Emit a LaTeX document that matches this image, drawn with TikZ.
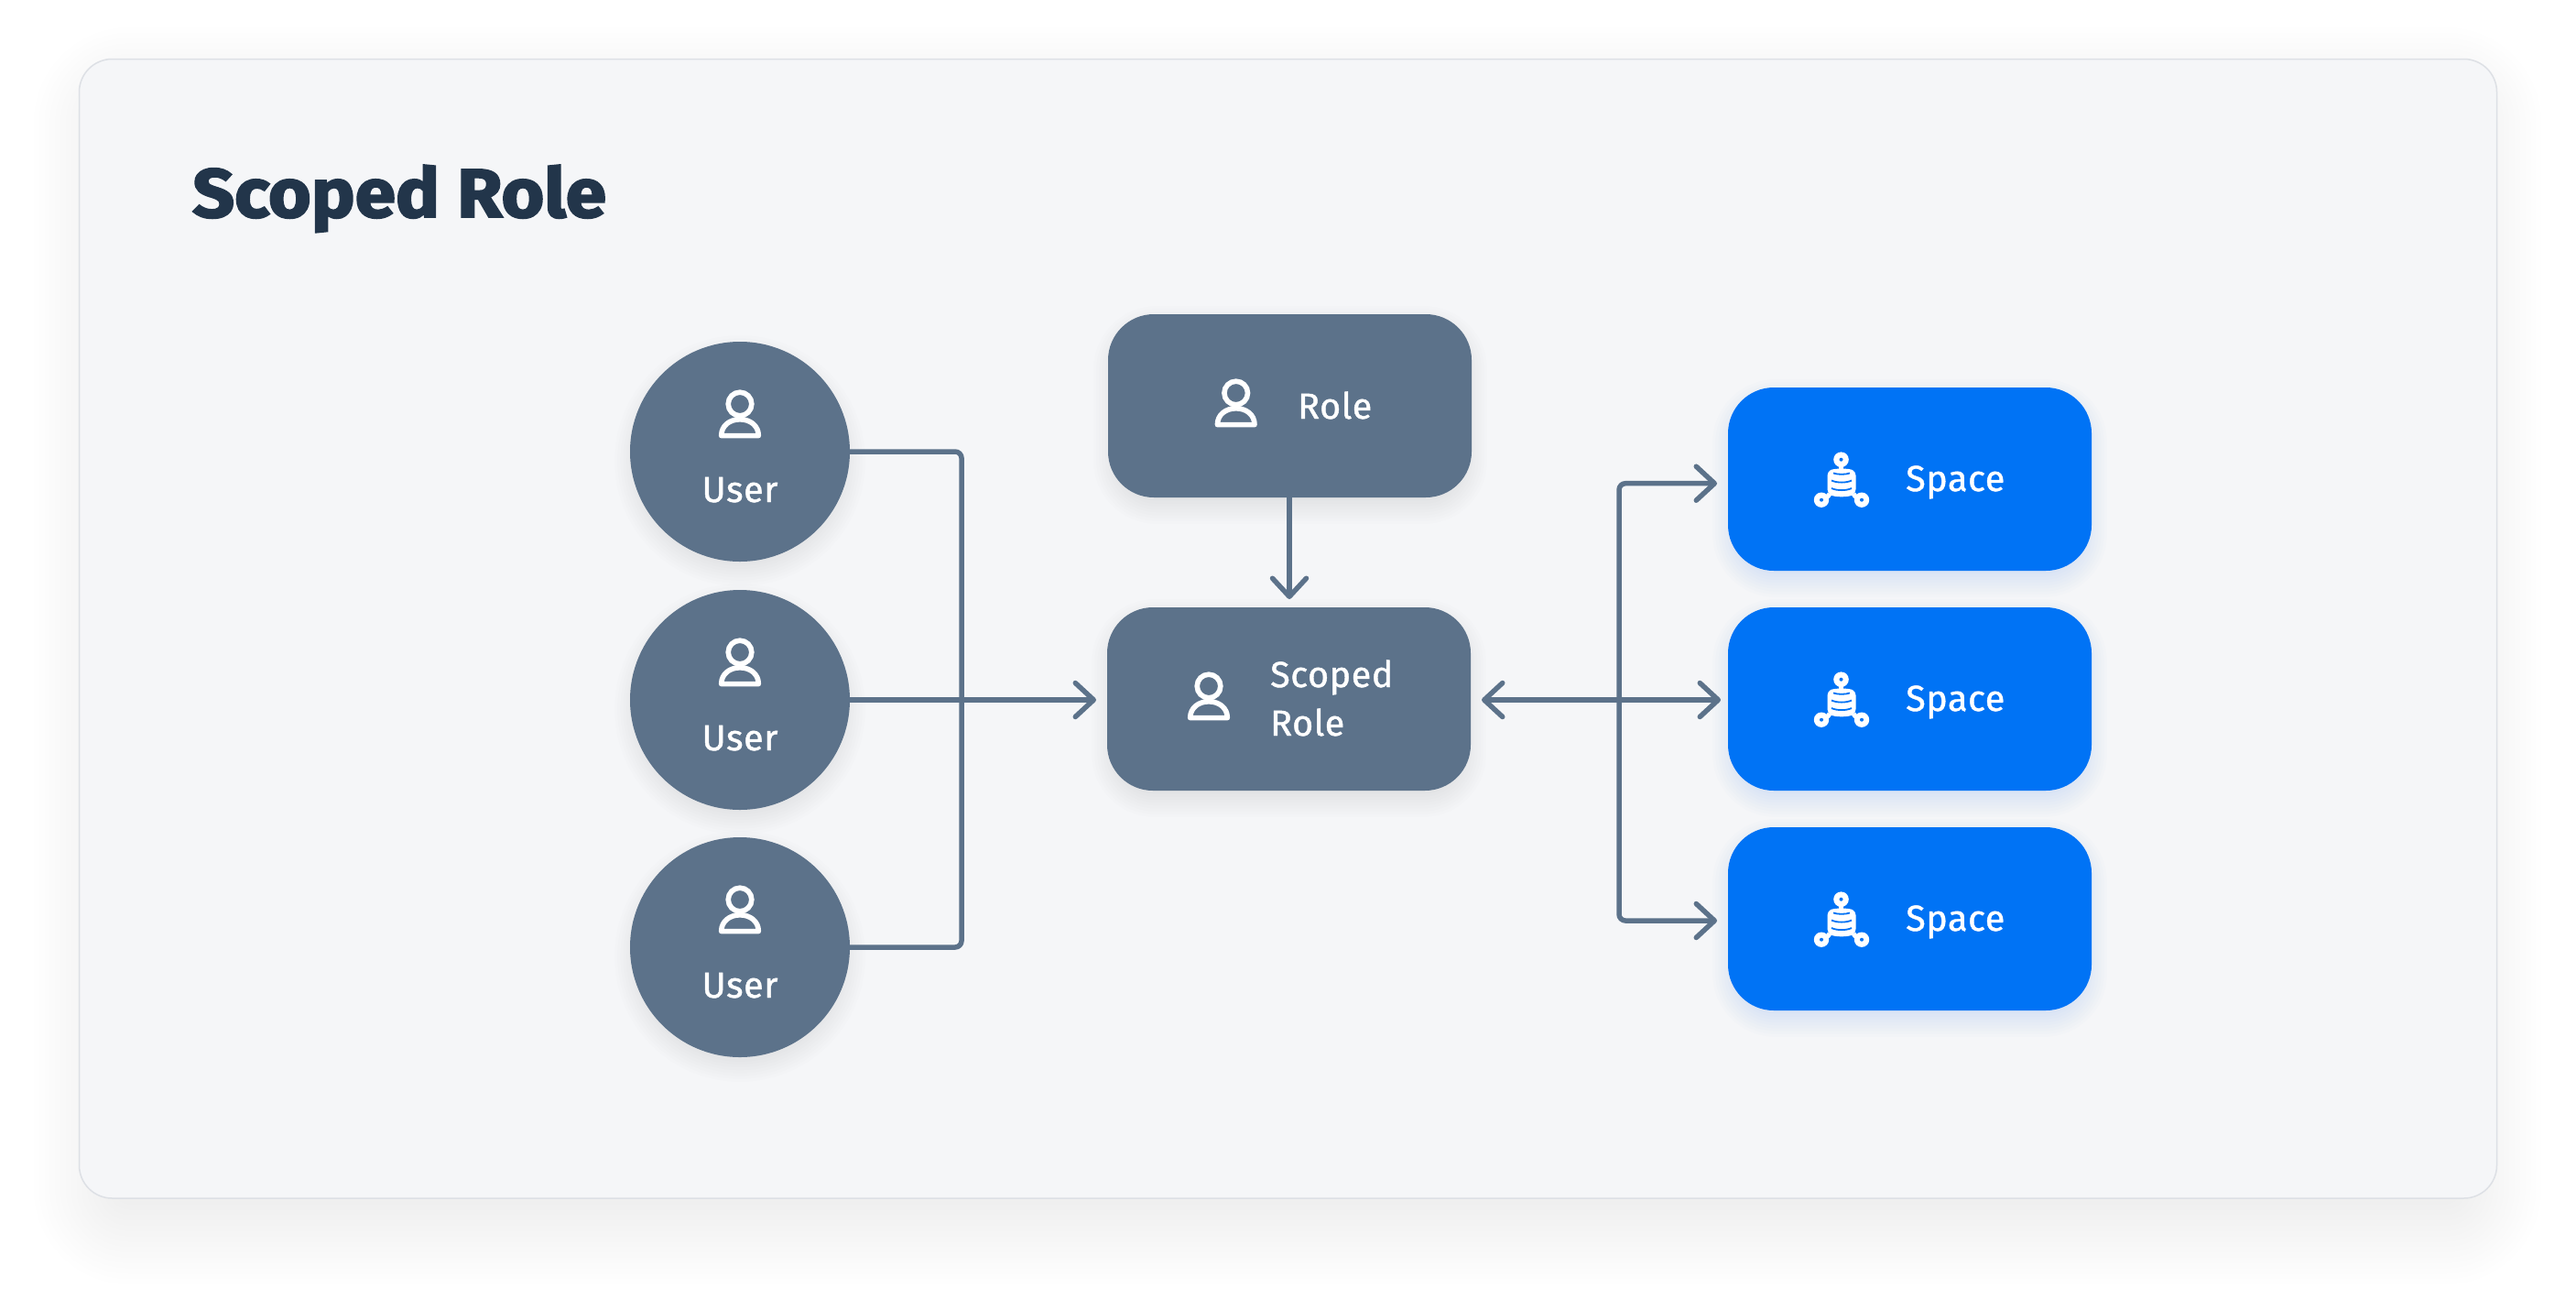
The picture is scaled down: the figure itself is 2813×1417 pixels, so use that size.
\documentclass[tikz,border=0pt]{standalone}
\usepackage{fontspec}
\setmainfont{Fira Sans}
\newfontfamily\labelfont[FakeBold=1.1,LetterSpace=1.5]{Fira Sans}
\newfontfamily\titlefont[FakeBold=2.6,FakeStretch=1.07]{Fira Sans Bold}
\usetikzlibrary{arrows.meta}
\definecolor{slate}{HTML}{5C728A}
\definecolor{brandblue}{HTML}{0073F5}
\definecolor{cardfill}{HTML}{F5F6F8}
\definecolor{cardedge}{HTML}{DDE0E5}
\definecolor{titleink}{HTML}{22354A}
\tikzset{
  card/.style={draw=cardedge,line width=1.5pt,fill=cardfill,rounded corners=36pt},
  ballnode/.style={circle,fill=slate,minimum size=240pt,inner sep=0pt},
  rolebox/.style={rectangle,fill=slate,minimum width=397pt,minimum height=200pt,rounded corners=50pt,inner sep=0pt},
  spacebox/.style={rectangle,fill=brandblue,minimum width=397pt,minimum height=200pt,rounded corners=50pt,inner sep=0pt},
  lbl/.style={text=white,inner sep=0pt,font=\labelfont\fontsize{39.5}{39.5}\selectfont,anchor=base west},
  lblc/.style={text=white,inner sep=0pt,font=\labelfont\fontsize{39.5}{39.5}\selectfont,anchor=base},
  wire/.style={draw=slate,line width=5.5pt,rounded corners=7pt},
  tip/.tip={Straight Barb[length=20pt,width=37pt,line width=5.5pt,round]},
  personicon/.pic={
    \draw[white,line width=5.6pt] (0,0) circle (12.8pt);
    \draw[white,line width=5.6pt,line join=round] (-20.3,34.6) .. controls (-20.3,23.5) and (-11,16.8) .. (0,16.8) .. controls (11,16.8) and (20.3,23.5) .. (20.3,34.6) -- cycle;
  },
  spaceicon/.pic={
    \draw[white,line width=4.5pt] (-0.5,-14) -- (-0.5,-9);
    \draw[white,line width=5pt] (-13,16) .. controls (-15,20) and (-17,20) .. (-20,21);
    \draw[white,line width=5pt] (13,16) .. controls (15,20) and (17,20) .. (20,21);
    \fill[white] (-0.5,-21.3) circle (8.3pt) (-22,22.7) circle (8.2pt) (22,22.7) circle (8.2pt);
    \fill[brandblue] (-0.5,-21.3) circle (2pt) (-22,22.7) circle (2pt) (22,22.7) circle (2pt);
    \fill[white,rounded corners=4pt] (-15.5,-8) .. controls (-8,-12) and (8,-12) .. (15.5,-8) -- (15.5,15) .. controls (8,20) and (-8,20) .. (-15.5,15) -- cycle;
    \draw[brandblue,line width=1.8pt] (-9,-6.5) .. controls (-4,-4.8) and (4,-4.8) .. (9,-6.5);
    \draw[brandblue,line width=1.8pt] (-11,1.5) .. controls (-5,4.3) and (5,4.3) .. (11,1.5);
    \draw[brandblue,line width=1.8pt] (-11,10) .. controls (-5,12.8) and (5,12.8) .. (11,10);
  }
}
% soft shadow: stacked translucent shapes
\newcommand{\softrect}[9]{% x1 y1 x2 y2 radius blur steps color alpha
  \foreach \k in {1,...,#7}{
    \pgfmathsetmacro{\ex}{#6*(1-2*\k/#7)}
    \pgfmathsetmacro{\rr}{max(#5+\ex,1)}
    \fill[#8,opacity=#9,rounded corners=\rr pt] (#1-\ex,#2-\ex) rectangle (#3+\ex,#4+\ex);
  }
}
\newcommand{\softball}[6]{% cx cy r blur color alpha
  \foreach \k in {1,...,14}{
    \pgfmathsetmacro{\ex}{#4*(1-2*\k/14)}
    \fill[#5,opacity=#6] (#1,#2) circle ({(#3+\ex)*1pt});
  }
}
\begin{document}
\begin{tikzpicture}[x=1pt,y=-1pt]
\useasboundingbox (0,0) rectangle (2813,1417);
\fill[white] (0,0) rectangle (2813,1417);
% card
\softrect{101}{94}{2711}{1338}{40}{70}{24}{black}{0.0038}
\path[card] (86.5,64.5) rectangle (2726.5,1308);
\node[inner sep=0pt,anchor=base west,text=titleink,font=\titlefont\fontsize{75}{75}\selectfont] (title) at (210,237) {Scoped Role};
% shadows
\softball{808}{503}{118}{22}{slate}{0.01}
\softball{808}{774}{118}{22}{slate}{0.01}
\softball{808}{1044}{118}{22}{slate}{0.01}
\softrect{1213}{353}{1605}{553}{50}{22}{14}{slate}{0.01}
\softrect{1211}{673}{1604}{873}{50}{22}{14}{slate}{0.01}
\softrect{1889}{433}{2282}{633}{50}{22}{14}{brandblue}{0.01}
\softrect{1889}{673}{2282}{873}{50}{22}{14}{brandblue}{0.01}
\softrect{1889}{913}{2282}{1113}{50}{22}{14}{brandblue}{0.01}
% nodes
\node[ballnode] (u1) at (808,493) {};
\node[ballnode] (u2) at (808,764) {};
\node[ballnode] (u3) at (808,1034) {};
\node[rolebox] (role) at (1408.5,443) {};
\node[rolebox] (scoped) at (1407.5,763) {};
\node[spacebox] (s1) at (2085.5,523) {};
\node[spacebox] (s2) at (2085.5,763) {};
\node[spacebox] (s3) at (2085.5,1003) {};
% labels and icons
\pic at (808,441) {personicon};
\pic at (808,712) {personicon};
\pic at (808,982) {personicon};
\node[lblc] (lu1) at (808,548) {User};
\node[lblc] (lu2) at (808,819) {User};
\node[lblc] (lu3) at (808,1089) {User};
\pic at (1349.7,429) {personicon};
\node[lbl] (lrole) at (1417,457) {Role};
\pic at (1320,749) {personicon};
\node[lbl] (lsc) at (1387,750) {Scoped};
\node[lbl] (lsr) at (1387,803) {Role};
\pic at (2011,523) {spaceicon};
\pic at (2011,763) {spaceicon};
\pic at (2011,1003) {spaceicon};
\node[lbl] (l1) at (2081,536) {Space};
\node[lbl] (l2) at (2081,776) {Space};
\node[lbl] (l3) at (2081,1016) {Space};
% connectors
\coordinate (jl) at (1050,764);
\coordinate (jr) at (1768,764);
\coordinate (tipc) at (1197,764);
\draw[wire] (u1.east) -- (jl |- u1.east) -- (jl |- u3.east) -- (u3.east);
\draw[wire,-{tip}] (u2.east) -- (tipc);
\coordinate (tr) at (1408,654);
\draw[wire,-{tip}] (tr |- role.south) -- (tr);
\coordinate (t1) at (1875,527.7);
\coordinate (t3) at (1875,1005);
\coordinate (t2) at (1879,764);
\coordinate (t0) at (1618,764);
\draw[wire,{tip}-{tip}] (t0) -- (t2);
\draw[wire,{tip}-{tip}] (t1) -- (jr |- t1) -- (jr |- t3) -- (t3);
\end{tikzpicture}
\end{document}
